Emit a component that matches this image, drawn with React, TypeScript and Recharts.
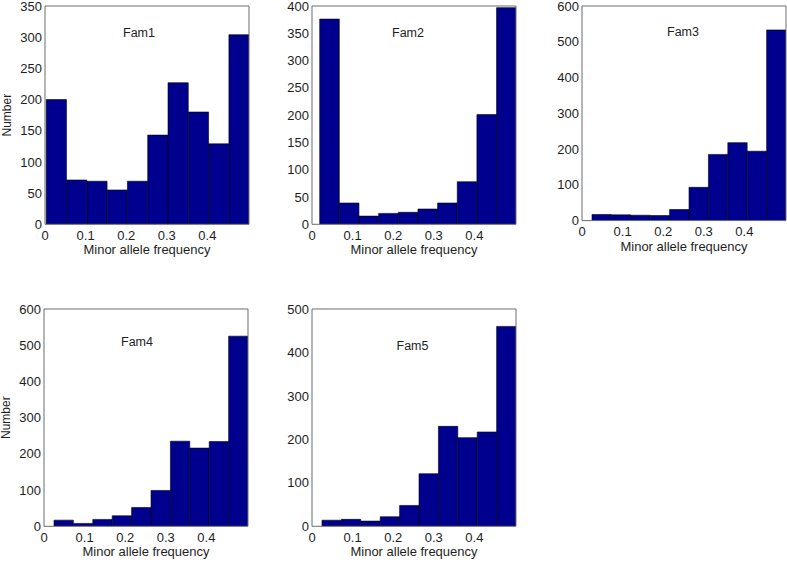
import React from "react";
import { BarChart, Bar, XAxis, YAxis } from "recharts";

// Bin centres (minor allele frequency)
const fam1Bins = [0.028, 0.078, 0.128, 0.178, 0.228, 0.278, 0.328, 0.378, 0.428, 0.478];
const fam2Bins = [0.0432, 0.0916, 0.14, 0.1884, 0.2368, 0.2852, 0.3336, 0.382, 0.4304, 0.4788];
const fam345Bins = [0.0485, 0.0963, 0.1441, 0.1919, 0.2397, 0.2875, 0.3353, 0.3831, 0.4309, 0.4787];

// Counts per bin
const fam1Counts = [200, 71, 69, 55, 69, 143, 227, 180, 129, 304];
const fam2Counts = [376, 39, 15, 20, 22, 28, 39, 78, 201, 397];
const fam3Counts = [17, 16, 15, 14, 31, 93, 185, 218, 194, 533];
const fam4Counts = [17, 8, 19, 29, 52, 99, 235, 216, 234, 525];
const fam5Counts = [14, 16, 12, 22, 48, 121, 230, 204, 217, 460];

const xTicks = [0, 0.1, 0.2, 0.3, 0.4];
const yTicks350 = [0, 50, 100, 150, 200, 250, 300, 350];
const yTicks400 = [0, 50, 100, 150, 200, 250, 300, 350, 400];
const yTicks600 = [0, 100, 200, 300, 400, 500, 600];
const yTicks500 = [0, 100, 200, 300, 400, 500];

const titles = ["Fam1", "Fam2", "Fam3", "Fam4", "Fam5"];
const xLabel = "Minor allele frequency";
const yLabel = "Number";

const X_DOMAIN: [number, number] = [0, 0.5025];
const PLOT_W = 204;
const Y_W = 45;
const X_H = 38;
const M_TOP = 8;
const M_RIGHT = 8;
const AXIS_COLOR = "#6b6b6b";
const TEXT_COLOR = "#1e1e1e";
const FONT = '"Liberation Sans", Arial, sans-serif';

type PanelProps = {
  plotLeft: number;
  plotTop: number;
  plotH: number;
  bins: number[];
  counts: number[];
  yTicks: number[];
  barSize: number;
  title: string;
  titleX: number;
  titleY: number;
  showYLabel: boolean;
};

function Panel(p: PanelProps) {
  const data = p.bins.map((x, i) => ({ x, n: p.counts[i] }));
  const yMax = p.yTicks[p.yTicks.length - 1];
  const width = Y_W + PLOT_W + M_RIGHT;
  const height = M_TOP + p.plotH + X_H;
  return (
    <>
      <div
        style={{
          position: "absolute",
          left: p.plotLeft - Y_W,
          top: p.plotTop - M_TOP,
          width,
          height,
        }}
      >
        <BarChart
          width={width}
          height={height}
          data={data}
          margin={{ top: M_TOP, right: M_RIGHT, bottom: 0, left: 0 }}
        >
          <XAxis
            xAxisId="x"
            type="number"
            dataKey="x"
            domain={X_DOMAIN}
            allowDataOverflow
            ticks={xTicks}
            interval={0}
            height={X_H}
            tickLine={false}
            tickSize={0}
            tickMargin={6}
            axisLine={{ stroke: AXIS_COLOR }}
            tick={{ fontSize: 13, fill: TEXT_COLOR, fontFamily: FONT }}
            tickFormatter={(v: number) => String(v)}
            label={{
              value: xLabel,
              position: "insideBottom",
              offset: 8,
              style: { fontSize: 13, fill: TEXT_COLOR, fontFamily: FONT },
            }}
          />
          <XAxis
            xAxisId="xb"
            type="number"
            dataKey="x"
            domain={X_DOMAIN}
            allowDataOverflow
            ticks={xTicks}
            interval={0}
            orientation="bottom"
            mirror
            tick={false}
            tickSize={3}
            tickLine={{ stroke: AXIS_COLOR }}
            axisLine={false}
          />
          <XAxis
            xAxisId="xt"
            type="number"
            dataKey="x"
            domain={X_DOMAIN}
            allowDataOverflow
            ticks={xTicks}
            interval={0}
            orientation="top"
            mirror
            tick={false}
            tickSize={3}
            tickLine={{ stroke: AXIS_COLOR }}
            axisLine={{ stroke: AXIS_COLOR }}
          />
          <YAxis
            yAxisId="y"
            type="number"
            domain={[0, yMax]}
            allowDataOverflow
            ticks={p.yTicks}
            interval={0}
            width={Y_W}
            tickLine={false}
            tickSize={0}
            tickMargin={3}
            axisLine={{ stroke: AXIS_COLOR }}
            tick={{ fontSize: 13, fill: TEXT_COLOR, fontFamily: FONT }}
            label={
              p.showYLabel
                ? {
                    value: yLabel,
                    angle: -90,
                    position: "insideLeft",
                    offset: 6.8,
                    style: {
                      fontSize: 12,
                      fill: TEXT_COLOR,
                      fontFamily: FONT,
                      textAnchor: "middle",
                    },
                  }
                : undefined
            }
          />
          <YAxis
            yAxisId="yl"
            type="number"
            domain={[0, yMax]}
            allowDataOverflow
            ticks={p.yTicks}
            interval={0}
            orientation="left"
            mirror
            tick={false}
            tickSize={3}
            tickLine={{ stroke: AXIS_COLOR }}
            axisLine={false}
          />
          <YAxis
            yAxisId="yr"
            type="number"
            domain={[0, yMax]}
            allowDataOverflow
            ticks={p.yTicks}
            interval={0}
            orientation="right"
            mirror
            tick={false}
            tickSize={3}
            tickLine={{ stroke: AXIS_COLOR }}
            axisLine={{ stroke: AXIS_COLOR }}
          />
          <Bar
            xAxisId="x"
            yAxisId="y"
            dataKey="n"
            fill="#00008F"
            stroke="#000000"
            strokeWidth={0.6}
            barSize={p.barSize}
            isAnimationActive={false}
          />
        </BarChart>
      </div>
      <div
        style={{
          position: "absolute",
          left: p.titleX - 30,
          top: p.titleY - 7,
          width: 60,
          lineHeight: "14px",
          textAlign: "center",
          fontSize: 12.5,
          color: TEXT_COLOR,
          fontFamily: FONT,
        }}
      >
        {p.title}
      </div>
    </>
  );
}

export default function App() {
  return (
    <div
      style={{
        position: "absolute",
        left: 0,
        top: 0,
        width: 787,
        height: 562,
        overflow: "hidden",
        background: "#ffffff",
      }}
    >
      <Panel
        plotLeft={44.5}
        plotTop={5.7}
        plotH={218.3}
        bins={fam1Bins}
        counts={fam1Counts}
        yTicks={yTicks350}
        barSize={20.25}
        title={titles[0]}
        titleX={139}
        titleY={33}
        showYLabel
      />
      <Panel
        plotLeft={312.3}
        plotTop={5.7}
        plotH={218.3}
        bins={fam2Bins}
        counts={fam2Counts}
        yTicks={yTicks400}
        barSize={19.6}
        title={titles[1]}
        titleX={408}
        titleY={33}
        showYLabel={false}
      />
      <Panel
        plotLeft={581.7}
        plotTop={5.7}
        plotH={214.6}
        bins={fam345Bins}
        counts={fam3Counts}
        yTicks={yTicks600}
        barSize={19.35}
        title={titles[2]}
        titleX={683}
        titleY={32}
        showYLabel={false}
      />
      <Panel
        plotLeft={44.3}
        plotTop={309}
        plotH={217.3}
        bins={fam345Bins}
        counts={fam4Counts}
        yTicks={yTicks600}
        barSize={19.35}
        title={titles[3]}
        titleX={137}
        titleY={341.7}
        showYLabel
      />
      <Panel
        plotLeft={312.3}
        plotTop={309}
        plotH={217.3}
        bins={fam345Bins}
        counts={fam5Counts}
        yTicks={yTicks500}
        barSize={19.35}
        title={titles[4]}
        titleX={412.5}
        titleY={345.7}
        showYLabel={false}
      />
    </div>
  );
}
